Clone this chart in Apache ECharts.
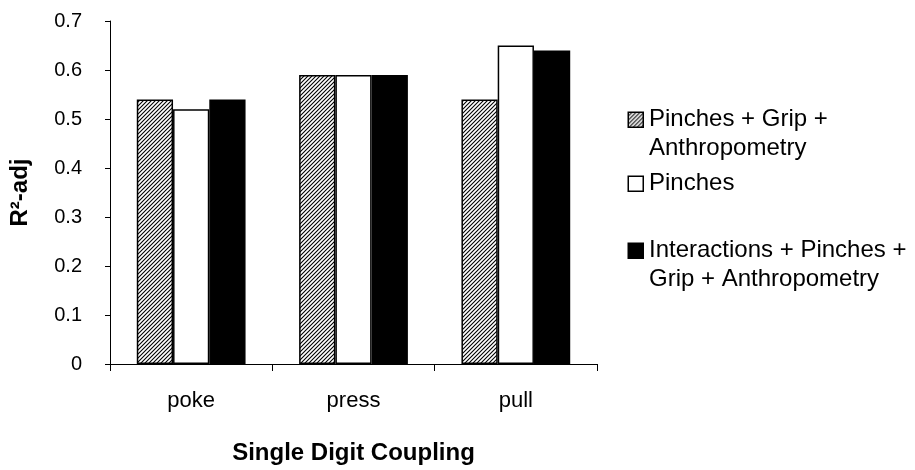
<!DOCTYPE html>
<html>
<head>
<meta charset="utf-8">
<script src="https://cdn.jsdelivr.net/npm/echarts@6/dist/echarts.min.js"></script>
<style>html,body{margin:0;padding:0;background:#fff}#c{width:915px;height:470px}</style>
</head>
<body>
<div id="c"></div>
<script>
var categories = ['poke', 'press', 'pull'];
var seriesNames = ['Pinches + Grip +\nAnthropometry', 'Pinches', 'Interactions + Pinches +\nGrip + Anthropometry'];
var pinchesGripAnthro = [0.54, 0.59, 0.54];
var pinches = [0.52, 0.59, 0.65];
var interactions = [0.54, 0.59, 0.64];
var yTicks = [0, 0.1, 0.2, 0.3, 0.4, 0.5, 0.6, 0.7];

function hatch() {
  var s = 4;
  var cv = document.createElement('canvas');
  cv.width = s; cv.height = s;
  var ctx = cv.getContext('2d');
  ctx.fillStyle = '#fff';
  ctx.fillRect(0, 0, s, s);
  ctx.strokeStyle = '#000';
  ctx.lineWidth = 1.1;
  ctx.beginPath();
  ctx.moveTo(0, s); ctx.lineTo(s, 0);
  ctx.moveTo(-1, 1); ctx.lineTo(1, -1);
  ctx.moveTo(s - 1, s + 1); ctx.lineTo(s + 1, s - 1);
  ctx.stroke();
  return cv;
}

var font = 'Liberation Sans, Arial, sans-serif';
var fills = [{image: hatch(), repeat: 'repeat'}, '#fff', '#000'];

// legend drawn as graphic so the swatch lines up with the first text line
var legendIconTops = [111, 175, 242];
var legendGraphics = [];
seriesNames.forEach(function (n, i) {
  var top = legendIconTops[i];
  legendGraphics.push({
    type: 'rect', left: 627.5, top: top + 0.5, silent: true,
    shape: {width: 15, height: 15},
    style: {fill: fills[i], stroke: '#000', lineWidth: 1.5}
  });
  legendGraphics.push({
    type: 'text', left: 649, top: top + 8 - 14.5, silent: true,
    style: {text: n, font: '24px ' + font, fill: '#000', lineHeight: 29}
  });
});

var chart = echarts.init(document.getElementById('c'), null, {renderer: 'canvas'});
chart.setOption({
  animation: false,
  textStyle: {fontFamily: font, color: '#000'},
  grid: {left: 105, right: 318, top: 21, bottom: 94, containLabel: false},
  graphic: legendGraphics,
  xAxis: {
    type: 'category',
    data: categories,
    name: 'Single Digit Coupling',
    nameLocation: 'middle',
    nameGap: 77,
    nameTextStyle: {fontFamily: font, fontSize: 24, fontWeight: 'bold', color: '#000'},
    axisLine: {lineStyle: {color: '#000', width: 1}},
    axisTick: {show: true, length: 7, lineStyle: {color: '#000'}},
    axisLabel: {fontFamily: font, fontSize: 22, color: '#000', margin: 26}
  },
  yAxis: {
    type: 'value',
    min: 0, max: 0.7, interval: 0.1,
    name: 'R\u00b2-adj',
    nameLocation: 'middle',
    nameGap: 78,
    nameRotate: 90,
    nameTextStyle: {fontFamily: font, fontSize: 24, fontWeight: 'bold', color: '#000'},
    axisLine: {show: true, lineStyle: {color: '#000', width: 1}},
    axisTick: {show: true, length: 5, lineStyle: {color: '#000'}},
    splitLine: {show: false},
    axisLabel: {fontFamily: font, fontSize: 20, color: '#000', margin: 28,
      formatter: function (v) { var r = Math.round(v * 10) / 10; return yTicks.indexOf(r) >= 0 ? String(r) : ''; }}
  },
  series: [
    {name: seriesNames[0], type: 'bar', data: pinchesGripAnthro, barGap: '0%', barCategoryGap: '33%',
      itemStyle: {color: fills[0], borderColor: '#000', borderWidth: 1.5}},
    {name: seriesNames[1], type: 'bar', data: pinches, barGap: '0%', barCategoryGap: '33%',
      itemStyle: {color: fills[1], borderColor: '#000', borderWidth: 1.5}},
    {name: seriesNames[2], type: 'bar', data: interactions, barGap: '0%', barCategoryGap: '33%',
      itemStyle: {color: fills[2], borderColor: '#000', borderWidth: 1.5}}
  ]
});
</script>
</body>
</html>
